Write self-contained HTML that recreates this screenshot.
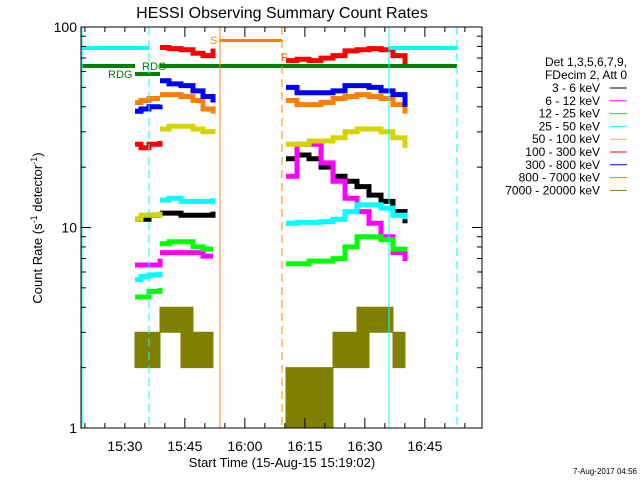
<!DOCTYPE html>
<html><head><meta charset="utf-8"><style>
body{margin:0;background:#fff}
svg{display:block;font-family:"Liberation Sans",sans-serif}
</style></head><body>
<svg id="c" width="640" height="480" viewBox="0 0 640 480">
<rect width="640" height="480" fill="#fff"/>
<text x="282" y="18" font-size="16" text-anchor="middle">HESSI Observing Summary Count Rates</text>
<text transform="translate(42,228) rotate(-90)" font-size="13" text-anchor="middle">Count Rate (s<tspan dy="-5" font-size="9">-1</tspan><tspan dy="5"> detector</tspan><tspan dy="-5" font-size="9">-1</tspan><tspan dy="5">)</tspan></text>
<text x="282" y="467" font-size="13" text-anchor="middle">Start Time (15-Aug-15 15:19:02)</text>
<text x="637" y="474" font-size="8" text-anchor="end">7-Aug-2017 04:56</text>
<g id="plot"></g>
<g id="legend" font-size="12"></g>
</svg>
<script>
const tA=[13.5,15,17,19.75];
const tB=[19.75,22,25,28,30.5,33];
const tC=[51.25,54,57,60,63,66,69,72,75,78,81];
const seriesNames=["3 - 6 keV","6 - 12 keV","12 - 25 keV","25 - 50 keV","50 - 100 keV","100 - 300 keV","300 - 800 keV","800 - 7000 keV","7000 - 20000 keV"];
const seriesColors=["#000000","#ff00ff","#00ff00","#00ffff","#d4d400","#ff0000","#0000ff","#ff8000","#808000"];
const blackA=[11,11,11.5,11.5], blackB=[11.8,11.8,11.5,11.5,11.5,12], blackC=[22,23,22,20,18,17,16,14.5,13.5,12,10.5];
const magentaA=[6.5,6.5,6.5,7], magentaB=[7.5,7.5,7.5,7.5,7.2,7.2], magentaC=[18,26,26,21,17,14,12,10.5,9,7.5,6.8];
const greenA=[4.5,4.5,4.8,5], greenB=[8.3,8.5,8.5,8,7.8,7.8], greenC=[6.6,6.6,6.8,6.8,7,8,9,9,8.7,7.8,7.6];
const cyanA=[5.5,5.7,5.8,6], cyanB=[13.7,14,13.5,13.5,13.5,14], cyanC=[10.5,10.6,10.6,10.7,11,12,13,13,12.5,11.5,11];
const yellowA=[11,11.5,11.5,12], yellowB=[31,32,32,31,30,31], yellowC=[26,26,27,27,28,30,31,31,30,28,25];
const redA=[26,25,26,27], redB=[79,78,77,74,72,78], redC=[68,69,68,70,72,76,77,78,77,72,65];
const blueA=[38,39,40,41], blueB=[54,52,51,48,45,42], blueC=[50,47,47,47,48,51,51,50,48,46,40];
const orangeA=[42,43,44,44], orangeB=[46,46,45,43,39,37], orangeC=[43,41,41,42,44,45,46,45,44,41,37];
const oliveLoA=[2,2,2,2], oliveHiA=[3,3,3,3];
const oliveLoB=[3,3,2,2,2,2], oliveHiB=[4,4,4,3,3,3];
const oliveLoC=[1,1,1,1,2,2,2,3,3,2,2], oliveHiC=[2,2,2,2,3,3,4,4,4,3,3];
const yTicks=[1,10,100];
const xTickLabels=["15:30","15:45","16:00","16:15","16:30","16:45"];
const xTickMinutes=[10.97,25.97,40.97,55.97,70.97,85.97];

const L=81,R=482,T=27,B=428;
function X(t){return L+t*4;}
function Y(v){return B-Math.log10(v)*200.5;}
const NS="http://www.w3.org/2000/svg";
const plot=document.getElementById('plot');
function mk(tag,attrs,parent){const e=document.createElementNS(NS,tag);for(const k in attrs)e.setAttribute(k,attrs[k]);(parent||plot).appendChild(e);return e;}
function stepPts(ts,vs){let p=[];for(let i=0;i<ts.length;i++){if(i>0)p.push(X(ts[i])+','+Y(vs[i-1]).toFixed(1));p.push(X(ts[i])+','+Y(vs[i]).toFixed(1));}return p;}

[[tA,oliveLoA,oliveHiA],[tB,oliveLoB,oliveHiB],[tC,oliveLoC,oliveHiC]].forEach(s=>{
  const hi=stepPts(s[0],s[2]), lo=stepPts(s[0],s[1]).reverse();
  const e=mk('polygon',{points:hi.concat(lo).join(' '),fill:'#808000',stroke:'#808000','stroke-width':1});
  
  
});
const lines=[[blackA,blackB,blackC,0],[magentaA,magentaB,magentaC,1],[greenA,greenB,greenC,2],[cyanA,cyanB,cyanC,3],[yellowA,yellowB,yellowC,4],[orangeA,orangeB,orangeC,7],[blueA,blueB,blueC,6],[redA,redB,redC,5]];
lines.forEach(s=>{
  [[tA,s[0]],[tB,s[1]],[tC,s[2]]].forEach(seg=>{
    const e=mk('polyline',{points:stepPts(seg[0],seg[1]).join(' '),fill:'none',stroke:seriesColors[s[3]],'stroke-width':5});
    
    
  });
});
mk('rect',{x:81,y:46,width:68,height:4,fill:'#00ffff'});
mk('rect',{x:389,y:46,width:68,height:4,fill:'#00ffff'});
mk('rect',{x:81,y:64,width:54,height:4,fill:'#008000'});
mk('rect',{x:135,y:72,width:25,height:4,fill:'#008000'});
mk('rect',{x:160,y:64,width:297,height:4,fill:'#008000'});
mk('rect',{x:220,y:39,width:62,height:3,fill:'#ff8000'});
const lbls=[["RDG",108,78,'#008000'],["RDG",142,70,'#008000'],["S",210,44,'#ff8000'],["F",281,61,'#ff4000']];
lbls.forEach(l=>{const e=mk('text',{x:l[1],y:l[2],'font-size':11,fill:l[3]});e.textContent=l[0];});
mk('line',{x1:81.5,x2:81.5,y1:T,y2:B,stroke:'#00ffff','stroke-width':2});
mk('line',{x1:149,x2:149,y1:T,y2:B,stroke:'#00ffff','stroke-dasharray':'8,5'});
mk('line',{x1:220,x2:220,y1:T,y2:B,stroke:'#ff8000'});
mk('line',{x1:282,x2:282,y1:T,y2:B,stroke:'#ff8000','stroke-dasharray':'8,5'});
mk('line',{x1:389,x2:389,y1:T,y2:B,stroke:'#00ffff'});
mk('line',{x1:457,x2:457,y1:T,y2:B,stroke:'#00ffff','stroke-dasharray':'8,5'});
const bx=mk('rect',{x:L,y:T,width:R-L,height:B-T,fill:'none',stroke:'#000','stroke-width':1});

for(let d=0;d<2;d++)for(let m=1;m<10;m++){const v=Math.pow(10,d)*m;const y=Y(v);const len=m==1?10:5;
  mk('line',{x1:L,x2:L+len,y1:y,y2:y,stroke:'#000'});mk('line',{x1:R,x2:R-len,y1:y,y2:y,stroke:'#000'});}
mk('line',{x1:L,x2:L+10,y1:Y(100),y2:Y(100),stroke:'#000'});
yTicks.forEach(v=>{const e=mk('text',{x:L-4,y:Y(v)+5,'font-size':14,'text-anchor':'end'});e.textContent=String(v);});
for(let t=0.97;t<=100.25;t+=5){const x=X(t);const major=Math.abs(((t-10.97)%15+15)%15)<0.01;const len=major?10:5;
  mk('line',{x1:x,x2:x,y1:B,y2:B-len,stroke:'#000'});mk('line',{x1:x,x2:x,y1:T,y2:T+len,stroke:'#000'});}
xTickLabels.forEach((s,i)=>{const e=mk('text',{x:X(xTickMinutes[i]),y:451,'font-size':14,'text-anchor':'middle'});e.textContent=s;});
const lg=document.getElementById('legend');
let e=mk('text',{x:627,y:66,'text-anchor':'end'},lg);e.textContent="Det 1,3,5,6,7,9,";
e=mk('text',{x:627,y:79,'text-anchor':'end'},lg);e.textContent="FDecim 2, Att 0";
seriesNames.forEach((n,i)=>{const y=92+i*12.8;
  const t=mk('text',{x:600,y:y,'text-anchor':'end'},lg);t.textContent=n;
  
  
  mk('line',{x1:610,x2:627,y1:y-4,y2:y-4,stroke:seriesColors[i]},lg);});
</script>
</body></html>
